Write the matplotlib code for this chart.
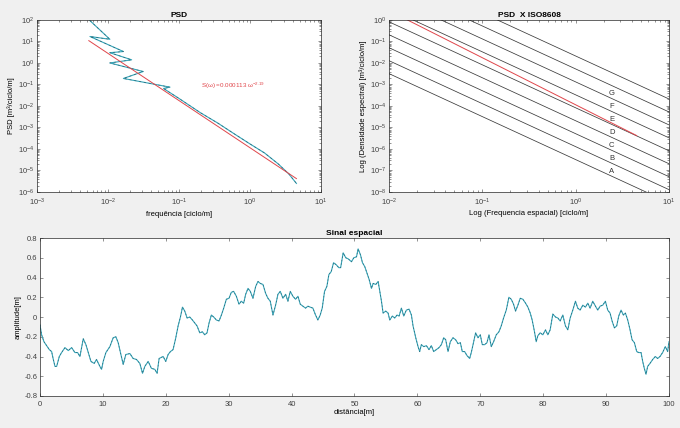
"""PSD do perfil de pista, comparação com as classes ISO 8608 e sinal espacial."""

import matplotlib

matplotlib.use("Agg")
import matplotlib.pyplot as plt
import numpy as np

# PSD estimada (pontos na ordem em que foram calculados)
freq = [0.0055, 0.0105, 0.0055, 0.0163, 0.0105, 0.0213, 0.0105, 0.031, 0.0163,
        0.074, 0.06, 0.1, 0.2, 0.35, 0.6, 1.0, 1.6, 2.5, 3.5, 4.5]
psd = [93, 12.6, 17, 3.4, 3.0, 1.4, 1.0, 0.40, 0.19,
       0.075, 0.065, 0.022, 0.0048, 0.0016, 5.0e-4, 1.7e-4, 6.5e-5, 2.0e-5, 7.0e-6, 2.5e-6]

# ajuste S(w) = a * w^b
fit_a = 0.000113
fit_b = -2.19
fit_range = [0.0053, 4.5]

# ISO 8608: limites Gd(n0) em 1e-6 m^3, n0 = 0.1 ciclo/m, w = 2
n0 = 0.1
iso_limits = [32, 128, 512, 2048, 8192, 32768, 131072, 524288, 2097152]
iso_classes = ["A", "B", "C", "D", "E", "F", "G"]
iso_label_n = 2.43

# sinal espacial
distancia = [
    0.0, 0.26, 0.63, 1.06, 1.48, 1.85, 2.12, 2.38, 2.65, 3.07, 3.44, 3.97, 4.50, 5.03,
    5.56, 5.98, 6.35, 6.61, 6.88, 7.30, 7.67, 8.10, 8.62, 8.99, 9.52, 9.79, 10.05, 10.48,
    11.11, 11.64, 12.06, 12.43, 12.80, 13.23, 13.65, 14.29, 14.81, 15.34, 15.87, 16.30,
    16.67, 17.20, 17.72, 18.25, 18.62, 18.94, 19.58, 20.00, 20.37, 20.74, 21.16, 21.59,
    21.96, 22.33, 22.65, 23.02, 23.39, 23.81, 24.23, 24.60, 24.97, 25.40, 25.82, 26.19,
    26.56, 26.88, 27.25, 27.62, 28.04, 28.47, 28.84, 29.21, 29.63, 30.05, 30.42, 30.79,
    31.22, 31.64, 32.01, 32.38, 32.70, 33.07, 33.44, 33.86, 34.29, 34.66, 35.03, 35.45,
    35.87, 36.24, 36.61, 37.04, 37.46, 37.83, 38.20, 38.62, 39.05, 39.42, 39.79, 40.21,
    40.63, 41.01, 41.38, 41.80, 42.22, 42.59, 42.96, 43.39, 43.81, 44.18, 44.55, 44.87,
    45.24, 45.61, 45.93, 46.30, 46.67, 47.09, 47.51, 47.80, 48.20, 48.62, 48.99, 49.52,
    49.89, 50.32, 50.58, 50.95, 51.27, 51.64, 51.90, 52.33, 52.70, 52.96, 53.39, 53.76,
    54.02, 54.29, 54.55, 54.97, 55.34, 55.61, 56.03, 56.40, 56.77, 57.09, 57.46, 57.83,
    58.25, 58.68, 59.05, 59.31, 59.74, 60.11, 60.37, 60.63, 61.01, 61.43, 61.85, 62.22,
    62.59, 63.02, 63.44, 63.81, 64.18, 64.50, 64.87, 65.24, 65.66, 66.08, 66.46, 66.83,
    67.14, 67.51, 67.88, 68.31, 68.57, 68.94, 69.26, 69.63, 70.00, 70.32, 70.69, 71.06,
    71.38, 71.75, 72.12, 72.54, 72.96, 73.33, 73.70, 74.13, 74.55, 74.92, 75.29, 75.61,
    75.98, 76.35, 76.77, 77.20, 77.57, 77.94, 78.25, 78.62, 78.89, 79.15, 79.52, 79.95,
    80.37, 80.74, 81.11, 81.53, 81.96, 82.33, 82.70, 83.12, 83.54, 83.92, 84.29, 84.71,
    85.13, 85.50, 85.87, 86.30, 86.72, 87.09, 87.46, 87.88, 88.31, 88.68, 89.05, 89.47,
    89.89, 90.26, 90.63, 90.95, 91.32, 91.69, 92.01, 92.38, 92.75, 93.07, 93.44, 93.81,
    94.13, 94.50, 94.87, 95.19, 95.56, 95.82, 96.08, 96.35, 96.61, 96.98, 97.41, 97.83,
    98.20, 98.57, 98.99, 99.42, 99.79, 100.0,
]
amplitude = [
    -0.08, -0.18, -0.25, -0.29, -0.33, -0.35, -0.43, -0.50, -0.50, -0.40, -0.36, -0.31, -0.34, -0.31,
    -0.36, -0.36, -0.40, -0.31, -0.22, -0.28, -0.36, -0.45, -0.47, -0.43, -0.50, -0.53, -0.45, -0.36,
    -0.30, -0.21, -0.20, -0.26, -0.36, -0.48, -0.38, -0.37, -0.42, -0.43, -0.47, -0.57,
    -0.50, -0.45, -0.52, -0.53, -0.57, -0.42, -0.40, -0.45, -0.38, -0.35, -0.33, -0.21,
    -0.09, 0.00, 0.10, 0.06, -0.01, 0.00, -0.03, -0.06, -0.09, -0.16, -0.15, -0.18,
    -0.16, -0.06, 0.02, 0.00, -0.03, -0.04, 0.02, 0.09, 0.18, 0.19, 0.25, 0.26,
    0.21, 0.13, 0.16, 0.14, 0.23, 0.29, 0.26, 0.19, 0.31, 0.36, 0.34, 0.33,
    0.24, 0.19, 0.16, 0.02, 0.12, 0.23, 0.26, 0.19, 0.23, 0.16, 0.26, 0.21,
    0.18, 0.21, 0.13, 0.11, 0.09, 0.11, 0.10, 0.09, 0.02, -0.03, 0.02, 0.09,
    0.26, 0.31, 0.43, 0.46, 0.55, 0.53, 0.50, 0.50, 0.65, 0.60, 0.59, 0.56,
    0.60, 0.61, 0.69, 0.63, 0.55, 0.51, 0.46, 0.38, 0.29, 0.34, 0.33, 0.36,
    0.26, 0.16, 0.04, 0.06, 0.04, -0.03, 0.01, -0.01, 0.02, 0.01, 0.09, 0.01,
    0.07, 0.08, 0.02, -0.09, -0.21, -0.30, -0.35, -0.28, -0.30, -0.29, -0.33, -0.29,
    -0.35, -0.33, -0.31, -0.28, -0.21, -0.23, -0.35, -0.25, -0.21, -0.23, -0.27, -0.26,
    -0.35, -0.35, -0.39, -0.42, -0.36, -0.25, -0.16, -0.21, -0.18, -0.28, -0.28, -0.26,
    -0.18, -0.30, -0.25, -0.18, -0.15, -0.09, -0.01, 0.07, 0.20, 0.18, 0.13, 0.06,
    0.12, 0.19, 0.18, 0.14, 0.10, 0.04, -0.03, -0.15, -0.25, -0.19, -0.16, -0.18,
    -0.13, -0.18, -0.13, 0.03, 0.00, -0.01, -0.04, 0.02, -0.09, -0.13, -0.01, 0.07,
    0.16, 0.09, 0.07, 0.12, 0.10, 0.14, 0.09, 0.16, 0.11, 0.07, 0.11, 0.12,
    0.16, 0.07, 0.04, -0.04, -0.11, -0.09, 0.01, 0.07, 0.02, 0.04, -0.03, -0.13,
    -0.23, -0.26, -0.35, -0.36, -0.36, -0.45, -0.52, -0.58, -0.50, -0.47, -0.43, -0.40,
    -0.42, -0.40, -0.36, -0.30, -0.35, -0.25,
]

CYAN = "#35a6ba"
DARK = "#1f3b47"
RED = "#e0454a"
FS = 5.5


def style():
    plt.rcParams["font.family"] = ["Liberation Sans", "DejaVu Sans"]
    plt.rcParams["font.size"] = FS
    plt.rcParams["figure.facecolor"] = "#f0f0f0"
    plt.rcParams["axes.facecolor"] = "white"
    plt.rcParams["axes.edgecolor"] = "#262626"
    plt.rcParams["axes.linewidth"] = 0.5
    plt.rcParams["axes.unicode_minus"] = False
    plt.rcParams["mathtext.default"] = "regular"


def ticks(ax):
    ax.tick_params(which="both", direction="in", top=True, right=True,
                   labelsize=FS, colors="#404040", width=0.4, pad=2)
    ax.tick_params(axis="x", which="both", pad=3.5)
    ax.tick_params(which="major", length=2.5)
    ax.tick_params(which="minor", length=1.3)


def plot_psd(ax):
    ax.loglog(freq, psd, color=CYAN, lw=0.8)
    ax.loglog(freq, psd, color=DARK, lw=0.5, ls=(0, (3, 4)), alpha=0.6)
    n = np.array(fit_range)
    ax.loglog(n, fit_a * n ** fit_b, color=RED, lw=0.7)
    ax.text(0.2, 0.07, r"S($\omega$) =0.000113 $\omega^{-2.19}$", color=RED, fontsize=4.5)
    ax.set_xlim(1e-3, 1e1)
    ax.set_ylim(1e-6, 1e2)
    ax.set_xticks([1e-3, 1e-2, 1e-1, 1e0, 1e1])
    ax.set_yticks([10.0 ** k for k in range(-6, 3)])
    ax.set_title("PSD", fontsize=6, fontweight="bold", pad=2)
    ax.set_xlabel("frequência [ciclo/m]", labelpad=2)
    ax.set_ylabel("PSD [m³/ciclo/m]", labelpad=2)
    ticks(ax)


def plot_iso(ax):
    n = np.array([1e-2, 1e1])
    for gd in iso_limits:
        ax.loglog(n, gd * 1e-6 * (n / n0) ** -2, color="#3a3a3a", lw=0.55)
    for gd, cls in zip(iso_limits, iso_classes):
        y = gd * 1e-6 * (iso_label_n / n0) ** -2
        ax.annotate(cls, (iso_label_n, y), xytext=(0, 3.5), textcoords="offset points",
                    ha="center", va="center", fontsize=FS, color="#333333")
    nf = np.array(fit_range)
    ax.loglog(nf, fit_a * nf ** fit_b, color=RED, lw=0.7)
    ax.set_xlim(1e-2, 1e1)
    ax.set_ylim(1e-8, 1e0)
    ax.set_xticks([1e-2, 1e-1, 1e0, 1e1])
    ax.set_yticks([10.0 ** k for k in range(-8, 1)])
    ax.set_title("PSD  X ISO8608", fontsize=6, fontweight="bold", pad=2)
    ax.set_xlabel("Log (Frequencia espacial) [ciclo/m]", labelpad=1)
    ax.set_ylabel("Log (Densidade espectral) [m³/ciclo/m]", labelpad=2)
    ticks(ax)


def plot_sinal(ax):
    ax.plot(distancia, amplitude, color=CYAN, lw=0.8)
    ax.plot(distancia, amplitude, color=DARK, lw=0.5, ls=(0, (2, 3)), alpha=0.6)
    ax.set_xlim(0, 100)
    ax.set_ylim(-0.8, 0.8)
    ax.set_xticks(np.arange(0, 101, 10))
    ax.set_yticks(np.round(np.arange(-0.8, 0.81, 0.2), 1))
    ax.set_yticklabels(["-0.8", "-0.6", "-0.4", "-0.2", "0", "0.2", "0.4", "0.6", "0.8"])
    ax.set_title("Sinal espacial", fontsize=6, fontweight="bold", pad=2)
    ax.set_xlabel("distância[m]", labelpad=1)
    ax.set_ylabel("amplitude[m]", labelpad=2)
    ticks(ax)


def main():
    style()
    fig = plt.figure(figsize=(6.8, 4.28), dpi=100)
    ax1 = fig.add_axes([0.0551, 0.5514, 0.417, 0.402])
    ax2 = fig.add_axes([0.572, 0.5514, 0.412, 0.402])
    ax3 = fig.add_axes([0.0588, 0.0748, 0.925, 0.369])
    plot_psd(ax1)
    plot_iso(ax2)
    plot_sinal(ax3)
    fig.savefig("out.png", dpi=100)
    plt.close(fig)


if __name__ == "__main__":
    main()
